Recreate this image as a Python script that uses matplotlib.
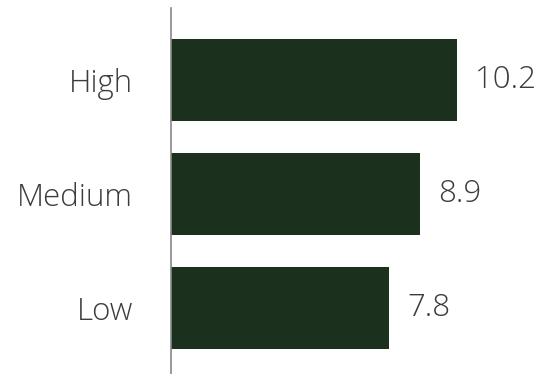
import matplotlib.pyplot as plt

categories = ['Low', 'Medium', 'High']
values = [7.8, 8.9, 10.2]
labels = ['7.8', '8.9', '10.2']

bar_color = '#1b301d'
text_color = '#3c3c3c'

plt.rcParams['font.family'] = ['Open Sans', 'DejaVu Sans']

fig = plt.figure(figsize=(5.46, 3.74), dpi=100)
ax = fig.add_axes([171 / 546, 0, 1 - 171 / 546, (374 - 8) / 374])

bars = ax.barh(categories, values, height=0.72, color=bar_color)

for b, lab in zip(bars, labels):
    ax.annotate(lab, (b.get_width(), b.get_y() + b.get_height() / 2),
                xytext=(13, 0), textcoords='offset points',
                ha='left', va='center', fontsize=22.5, fontweight='light',
                color=text_color)

ax.set_xlim(0, (546 - 171) / 28.0)
ax.set_ylim(-0.58, 2.63)

for s in ['top', 'right', 'bottom']:
    ax.spines[s].set_visible(False)
ax.spines['left'].set_color('#888888')
ax.spines['left'].set_linewidth(1.2)

ax.set_xticks([])
ax.tick_params(axis='y', length=0, pad=27.5, labelsize=22.5, labelcolor=text_color)
for t in ax.get_yticklabels():
    t.set_fontweight('light')

fig.savefig('out.png', dpi=100)
